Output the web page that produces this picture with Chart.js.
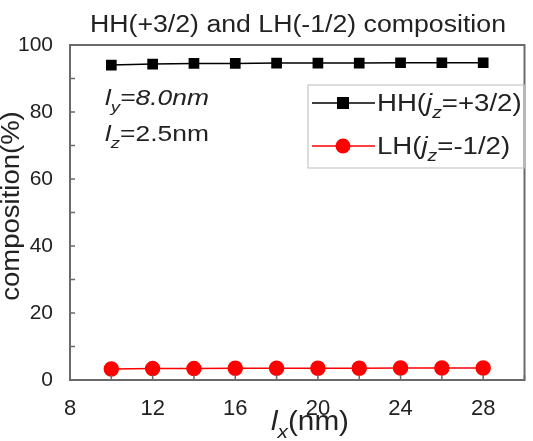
<!DOCTYPE html>
<html>
<head>
<meta charset="utf-8">
<script src="https://cdn.jsdelivr.net/npm/chart.js@4.4.0/dist/chart.umd.min.js"></script>
<style>
  html, body { margin: 0; padding: 0; background: #fff; }
  #wrap { width: 533px; height: 441px; }
</style>
</head>
<body>
<div id="wrap"><canvas id="chart" width="533" height="441"></canvas></div>
<script>
// data
const lx = [10, 12, 14, 16, 18, 20, 22, 24, 26, 28];
const hh = [94.0, 94.3, 94.5, 94.5, 94.6, 94.6, 94.6, 94.7, 94.7, 94.7];
const lh = [3.3, 3.4, 3.4, 3.5, 3.5, 3.5, 3.5, 3.6, 3.6, 3.6];
const xTickLabels = [8, 12, 16, 20, 24, 28];
const yTickLabels = [0, 20, 40, 60, 80, 100];

const FONT = '"Liberation Sans", Arial, sans-serif';
const axisColor = '#6a6a6a';

// text pieces with italic / subscript parts, stretched sideways by sx
function richWidth(ctx, parts, size) {
  let w = 0;
  parts.forEach(p => {
    const s = p.sub ? size * 0.7 : size;
    ctx.font = (p.it ? 'italic ' : '') + s + 'px ' + FONT;
    w += ctx.measureText(p.t).width;
  });
  return w;
}
function drawRich(ctx, x, y, parts, size, sx) {
  ctx.save();
  ctx.translate(x, y);
  ctx.scale(sx, 1);
  let cx = 0;
  parts.forEach(p => {
    const s = p.sub ? size * 0.7 : size;
    ctx.font = (p.it ? 'italic ' : '') + s + 'px ' + FONT;
    ctx.fillText(p.t, cx, p.sub ? size * 0.3 : 0);
    cx += ctx.measureText(p.t).width;
  });
  ctx.restore();
}

const decorations = {
  id: 'decorations',
  afterDraw(chart) {
    const ctx = chart.ctx;
    const a = chart.chartArea;
    const xs = chart.scales.x, ys = chart.scales.y;
    ctx.save();

    // frame
    ctx.strokeStyle = axisColor;
    ctx.lineWidth = 2;
    ctx.strokeRect(a.left, a.top, a.right - a.left, a.bottom - a.top);

    // inward ticks
    ctx.lineWidth = 1.5;
    ctx.beginPath();
    xs.ticks.forEach(t => {
      const px = xs.getPixelForValue(t.value);
      ctx.moveTo(px, a.bottom);
      ctx.lineTo(px, a.bottom - 5);
    });
    ys.ticks.forEach(t => {
      const py = ys.getPixelForValue(t.value);
      ctx.moveTo(a.left, py);
      ctx.lineTo(a.left + 5, py);
    });
    ctx.stroke();

    ctx.fillStyle = '#222';
    ctx.textBaseline = 'alphabetic';
    ctx.textAlign = 'left';

    // title
    const tt = [{t: 'HH(+3/2) and LH(-1/2) composition'}];
    const tw = richWidth(ctx, tt, 23) * 1.16;
    drawRich(ctx, 298 - tw / 2, 32, tt, 23, 1.16);

    // y axis title
    ctx.save();
    ctx.translate(19, 206);
    ctx.rotate(-Math.PI / 2);
    const yt = [{t: 'composition(%)'}];
    const yw = richWidth(ctx, yt, 25) * 1.1;
    drawRich(ctx, -yw / 2, 0, yt, 25, 1.1);
    ctx.restore();

    // x axis title
    const xt = [{t: 'l', it: true}, {t: 'x', it: true, sub: true}, {t: '(nm)'}];
    const xw = richWidth(ctx, xt, 27) * 1.1;
    drawRich(ctx, 310 - xw / 2, 430, xt, 27, 1.1);

    // annotations
    drawRich(ctx, 105, 105, [{t: 'l', it: true}, {t: 'y', it: true, sub: true}, {t: '=8.0nm', it: true}], 22, 1.2);
    drawRich(ctx, 105, 141, [{t: 'l', it: true}, {t: 'z', it: true, sub: true}, {t: '=2.5nm'}], 22, 1.2);

    // legend
    const lx0 = 308, ly0 = 85, lw = a.right - lx0, lhgt = 83;
    ctx.strokeStyle = '#bbb';
    ctx.lineWidth = 1;
    ctx.strokeRect(lx0, ly0, lw, lhgt);
    const rows = [
      {y: 103, color: '#000', square: true, parts: [{t: 'HH('}, {t: 'j', it: true}, {t: 'z', it: true, sub: true}, {t: '=+3/2)'}]},
      {y: 146, color: '#ff0000', square: false, parts: [{t: 'LH('}, {t: 'j', it: true}, {t: 'z', it: true, sub: true}, {t: '=-1/2)'}]}
    ];
    rows.forEach(r => {
      ctx.strokeStyle = r.color;
      ctx.lineWidth = 1.5;
      ctx.beginPath();
      ctx.moveTo(312, r.y);
      ctx.lineTo(375, r.y);
      ctx.stroke();
      ctx.fillStyle = r.color;
      if (r.square) {
        ctx.fillRect(337, r.y - 6, 12, 12);
      } else {
        ctx.beginPath();
        ctx.arc(343, r.y, 7.5, 0, Math.PI * 2);
        ctx.fill();
      }
      ctx.fillStyle = '#222';
      drawRich(ctx, 377, r.y + 8, r.parts, 23, 1.2);
    });

    ctx.restore();
  }
};

new Chart(document.getElementById('chart').getContext('2d'), {
  type: 'line',
  data: {
    datasets: [
      {
        label: 'HH',
        data: lx.map((x, i) => ({x: x, y: hh[i]})),
        borderColor: '#000',
        backgroundColor: '#000',
        borderWidth: 1.5,
        pointStyle: 'rect',
        pointRadius: 6.5,
        pointHoverRadius: 6.5
      },
      {
        label: 'LH',
        data: lx.map((x, i) => ({x: x, y: lh[i]})),
        borderColor: '#ff0000',
        backgroundColor: '#ff0000',
        borderWidth: 1.5,
        pointStyle: 'circle',
        pointRadius: 7,
        pointHoverRadius: 7
      }
    ]
  },
  options: {
    responsive: false,
    animation: false,
    layout: { padding: { top: 45, right: 6, left: 0, bottom: 0 } },
    plugins: {
      legend: { display: false },
      title: { display: false },
      tooltip: { enabled: false }
    },
    scales: {
      x: {
        type: 'linear',
        min: 8,
        max: 30,
        grid: { display: false },
        border: { display: false },
        afterFit: s => { s.height = 61; },
        ticks: {
          stepSize: 2,
          padding: 8,
          color: '#222',
          font: { size: 22, family: FONT },
          maxRotation: 0,
          autoSkip: false,
          callback: v => xTickLabels.includes(v) ? String(v) : ''
        }
      },
      y: {
        min: 0,
        max: 100,
        grid: { display: false },
        border: { display: false },
        afterFit: s => { s.width = 70; },
        ticks: {
          stepSize: 10,
          padding: 9,
          color: '#222',
          font: { size: 21, family: FONT },
          autoSkip: false,
          callback: v => yTickLabels.includes(v) ? String(v) : ''
        }
      }
    }
  },
  plugins: [decorations]
});
</script>
</body>
</html>
